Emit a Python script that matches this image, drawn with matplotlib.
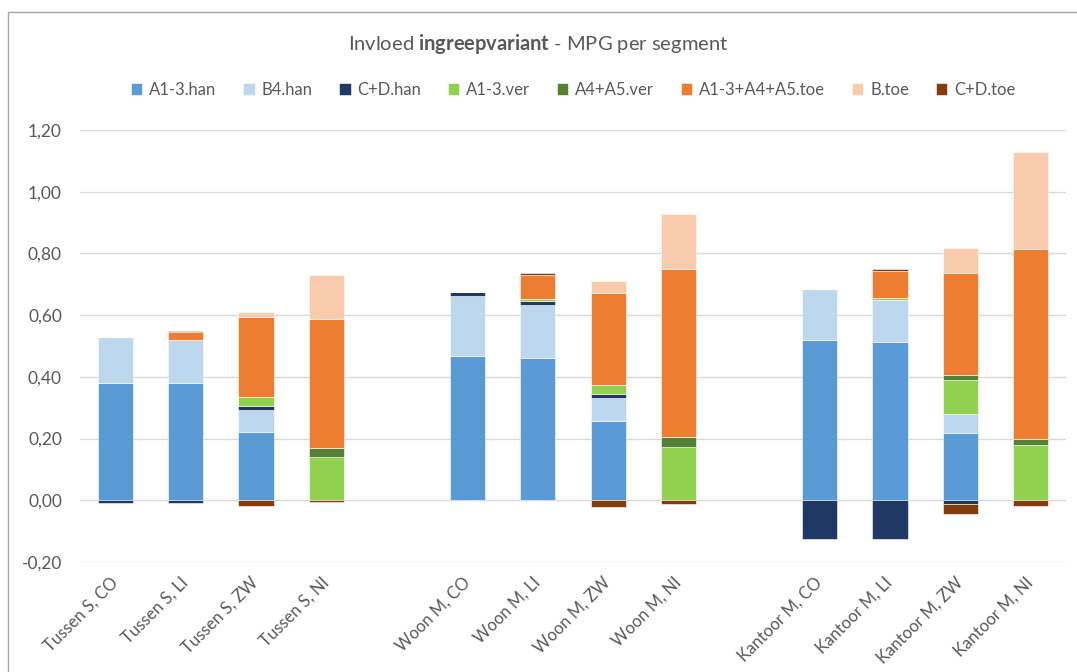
import numpy as np
import matplotlib.pyplot as plt
from matplotlib.patches import Rectangle

plt.rcParams['font.family'] = ['Lato', 'DejaVu Sans']
plt.rcParams['mathtext.fontset'] = 'custom'
plt.rcParams['mathtext.rm'] = 'Lato'
plt.rcParams['mathtext.bf'] = 'Lato:bold'

categories = ['Tussen S, CO', 'Tussen S, LI', 'Tussen S, ZW', 'Tussen S, NI',
              'Woon M, CO', 'Woon M, LI', 'Woon M, ZW', 'Woon M, NI',
              'Kantoor M, CO', 'Kantoor M, LI', 'Kantoor M, ZW', 'Kantoor M, NI']

series_names = ['A1-3.han', 'B4.han', 'C+D.han', 'A1-3.ver', 'A4+A5.ver',
                'A1-3+A4+A5.toe', 'B.toe', 'C+D.toe']

a13_han = [0.38, 0.38, 0.22, 0.0, 0.467, 0.46, 0.256, 0.0, 0.521, 0.513, 0.218, 0.0]
b4_han = [0.15, 0.138, 0.073, 0.0, 0.195, 0.173, 0.076, 0.0, 0.165, 0.135, 0.061, 0.0]
cd_han = [-0.01, -0.01, 0.013, 0.0, 0.014, 0.014, 0.014, 0.0, -0.126, -0.126, -0.013, 0.0]
a13_ver = [0.0, 0.003, 0.03, 0.14, 0.0, 0.006, 0.026, 0.172, 0.0, 0.007, 0.11, 0.178]
a45_ver = [0.0, 0.0, 0.0, 0.03, 0.0, 0.0, 0.0, 0.033, 0.0, 0.0, 0.017, 0.019]
a_toe = [0.0, 0.025, 0.257, 0.419, 0.0, 0.076, 0.30, 0.546, 0.0, 0.089, 0.332, 0.616]
b_toe = [0.0, 0.0, 0.016, 0.14, 0.0, 0.0, 0.038, 0.176, 0.0, 0.0, 0.08, 0.315]
cd_toe = [0.0, 0.003, -0.017, -0.005, 0.0, 0.008, -0.022, -0.012, 0.0, 0.007, -0.03, -0.02]

yticks = [-0.20, 0.0, 0.20, 0.40, 0.60, 0.80, 1.00, 1.20]

colors = ['#5B9BD5', '#BDD7EE', '#203864', '#92D050', '#548235',
          '#ED7D31', '#F8CBAD', '#843C0C']

series = [a13_han, b4_han, cd_han, a13_ver, a45_ver, a_toe, b_toe, cd_toe]

text_color = '#595959'

fig = plt.figure(figsize=(10.77, 6.72), dpi=100)
# chart area border (top and left visible in the reference)
fig.patches.append(Rectangle((8 / 1077, -0.1), 1.2, (1 - 12 / 672) + 0.1,
                             transform=fig.transFigure, fill=False,
                             edgecolor='#A6A6A6', linewidth=1.0))

ax = fig.add_axes([80 / 1077, 1 - 562 / 672, (1066 - 80) / 1077, (562 - 130) / 672])

# one empty slot between the three groups
x = np.arange(len(categories)) + np.arange(len(categories)) // 4
pos_base = np.zeros(len(categories))
neg_base = np.zeros(len(categories))
for name, vals, col in zip(series_names, series, colors):
    vals = np.array(vals)
    bottoms = np.where(vals >= 0, pos_base, neg_base)
    ax.bar(x, vals, width=0.5, bottom=bottoms, color=col, label=name,
           edgecolor='white', linewidth=0.4, zorder=3)
    pos_base += np.where(vals >= 0, vals, 0)
    neg_base += np.where(vals < 0, vals, 0)

ax.set_xlim(-0.5, x[-1] + 0.5)
ax.set_ylim(-0.2, 1.2)
ax.set_yticks(yticks)
ax.set_yticklabels([f'{v:.2f}'.replace('.', ',') for v in yticks])
ax.set_xticks(x)
ax.set_xticklabels(categories, rotation=45, ha='right', va='center',
                   rotation_mode='anchor')

ax.grid(axis='y', color='#D9D9D9', linewidth=1.0, zorder=0)
for s in ax.spines.values():
    s.set_visible(False)
ax.tick_params(axis='both', length=0, colors=text_color, labelsize=12.5)
ax.tick_params(axis='x', labelsize=12, pad=13)
ax.tick_params(axis='y', pad=13)

fig.text(0.5, 1 - 44 / 672, 'Invloed $\\bf{ingreepvariant}$ - MPG per segment',
         ha='center', va='center', fontsize=14.5, color=text_color)

handles, labels = ax.get_legend_handles_labels()
fig.legend(handles, labels, loc='center', bbox_to_anchor=(0.532, 1 - 90 / 672),
           ncol=8, frameon=False, fontsize=12, labelcolor=text_color,
           handlelength=0.7, handleheight=0.7, handletextpad=0.4,
           columnspacing=1.6)

fig.savefig('out.png', dpi=100)
